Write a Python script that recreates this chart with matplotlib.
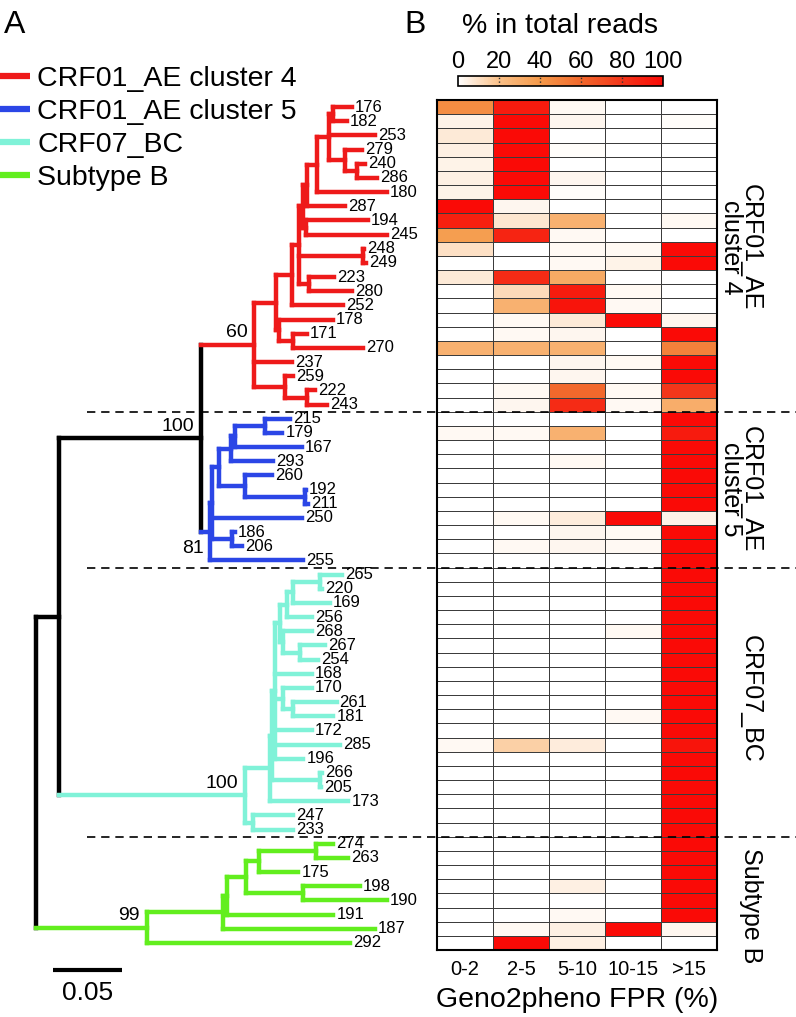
import matplotlib
matplotlib.use("Agg")
import matplotlib.pyplot as plt
import numpy as np
from matplotlib.collections import LineCollection
from matplotlib.colors import LinearSegmentedColormap, Normalize
from matplotlib.cm import ScalarMappable
from matplotlib.lines import Line2D

plt.rcParams['font.family'] = ['Liberation Sans', 'DejaVu Sans']

# ---- data -------------------------------------------------------------
# phylogeny, one Newick string per clade (branch lengths in subst./site,
# clade-root label = bootstrap)
nwk_c4 = ("(((((((((176:0.0140,182:0.0104):0.0025,253:0.0331,(279:0.0123,(240:0.0060,286:0.0147):0.0085):0.0114)"
          ":0.0087,180:0.0505):0.0077,287:0.0278):0.0027,(194:0.0449,245:0.0587):0.0022):0.0027,"
          "(248:0.0005,249:0.0020):0.0464,(223:0.0179,280:0.0309):0.0072):0.0055,252:0.0372):0.0114,"
          "(178:0.0391,(171:0.0099,270:0.0505):0.0104):0.0022):0.0157,237:0.0273,"
          "(259:0.0058,(222:0.0060,243:0.0147):0.0157):0.0222)60")
nwk_c5 = ("((((((215:0.0181,179:0.0125):0.0217,167:0.0483):0.0029,293:0.0307):0.0087,"
          "(260:0.0193,(192:0.0007,211:0.0024):0.0435):0.0188):0.0051,250:0.0650,"
          "(186:0.0024,206:0.0072):0.0143):0.0018,255:0.0680)81")
nwk_crf07 = ("((((((((265:0.0157,220:0.0012):0.0193,169:0.0266):0.0048,256:0.0181):0.0049,"
             "(268:0.0206,(267:0.0181,254:0.0133):0.0121):0.0024):0.0036,168:0.0266,"
             "(170:0.0206,(261:0.0314,181:0.0290):0.0072):0.0060,172:0.0266,285:0.0471,196:0.0205)"
             ":0.0024,(266:0.0014,205:0.0007):0.0350):0.0012,173:0.0567):0.0181,"
             "(247:0.0290,233:0.0290):0.0060)100")
nwk_b = ("((((((274:0.0125,263:0.0234):0.0411,175:0.0283):0.0096,(198:0.0411,190:0.0604):0.0415)"
         ":0.0140,191:0.0772):0.0029,187:0.1104):0.0551,292:0.1473)99")
backbone = "(((C4:0.0386,C5:0.0062)100:0.1029,CRF07:0.1348):0.0167,SUBB:0.0802)"

groups = ['CRF01_AE cluster 4', 'CRF01_AE cluster 5', 'CRF07_BC', 'Subtype B']
group_colors = ['#EE1A1A', '#2B46E6', '#80F2D8', '#62EE1E']
side_labels = ['CRF01_AE\ncluster 4', 'CRF01_AE\ncluster 5', 'CRF07_BC', 'Subtype B']
side_label_rows = [10.4, 27.5, 42.3, 56.9]

# % of reads per Geno2pheno FPR bin, rows in tree tip order
fpr_bins = ['0-2', '2-5', '5-10', '10-15', '>15']
reads_c4 = [[45, 92, 2, 0, 0], [4, 100, 3, 0, 1], [7, 100, 0, 0, 0], [5, 100, 1, 0, 0],
            [4, 100, 0, 0, 0], [5, 100, 3, 0, 0], [4, 100, 1, 0, 0], [100, 3, 0, 0, 0],
            [90, 8, 28, 0, 2], [38, 88, 2, 0, 0], [10, 0, 2, 2, 100], [0, 0, 2, 4, 100],
            [7, 85, 32, 0, 0], [0, 12, 92, 2, 0], [0, 28, 95, 2, 0], [0, 2, 7, 100, 3],
            [0, 2, 3, 0, 100], [28, 28, 28, 0, 50], [0, 0, 3, 2, 100], [0, 0, 3, 0, 100],
            [0, 2, 60, 2, 80], [0, 3, 85, 2, 30]]
reads_c5 = [[0, 0, 0, 0, 100], [2, 2, 28, 0, 92], [0, 0, 0, 0, 100], [0, 0, 2, 0, 100],
            [0, 0, 0, 0, 100], [0, 0, 0, 0, 100], [0, 0, 0, 0, 100], [0, 2, 6, 100, 4],
            [0, 0, 3, 2, 100], [0, 2, 3, 2, 100], [0, 0, 0, 0, 100]]
reads_crf07 = [[0, 0, 0, 0, 100], [0, 0, 0, 0, 100], [0, 0, 0, 0, 100], [0, 0, 0, 0, 100],
               [0, 0, 0, 2, 100], [0, 0, 0, 0, 100], [0, 0, 0, 0, 100], [0, 0, 0, 0, 100],
               [0, 0, 0, 0, 100], [0, 0, 0, 0, 100], [0, 0, 0, 2, 100], [0, 0, 0, 0, 100],
               [2, 15, 6, 0, 95], [0, 0, 0, 0, 100], [0, 0, 0, 0, 100], [0, 0, 0, 0, 100],
               [0, 0, 0, 0, 100], [0, 0, 0, 0, 100], [0, 0, 0, 0, 100]]
reads_b = [[0, 0, 0, 0, 100], [0, 0, 0, 0, 100], [0, 0, 0, 0, 100], [0, 0, 5, 0, 100],
           [0, 0, 0, 0, 100], [0, 0, 2, 0, 100], [0, 2, 5, 100, 3], [0, 100, 5, 0, 0]]


# ---- tiny newick parser -----------------------------------------------
def parse_newick(s):
    s = s.strip().rstrip(';')
    pos = 0

    def node():
        nonlocal pos
        n = {'children': [], 'name': '', 'length': 0.0, 'color': 'black'}
        if s[pos] == '(':
            pos += 1
            while True:
                n['children'].append(node())
                if s[pos] == ',':
                    pos += 1
                    continue
                pos += 1
                break
        start = pos
        while pos < len(s) and s[pos] not in ',)':
            pos += 1
        name, _, length = s[start:pos].partition(':')
        n['name'] = name
        n['length'] = float(length) if length else 0.0
        return n
    return node()


def paint(n, color):
    n['color'] = color
    for c in n['children']:
        paint(c, color)


clades = {}
for key, nwk, col in zip(['C4', 'C5', 'CRF07', 'SUBB'],
                         [nwk_c4, nwk_c5, nwk_crf07, nwk_b], group_colors):
    clades[key] = parse_newick(nwk)
    paint(clades[key], col)

tree = parse_newick(backbone)


def graft(n):
    for i, c in enumerate(n['children']):
        if c['name'] in clades:
            sub = clades[c['name']]
            sub['length'] = c['length']
            n['children'][i] = sub
        else:
            graft(c)


graft(tree)

tips = []


def layout(n, x0):
    n['x'] = x0 + n['length']
    if not n['children']:
        n['y'] = len(tips) + 0.5
        tips.append(n)
    else:
        for c in n['children']:
            layout(c, n['x'])
        n['y'] = (n['children'][0]['y'] + n['children'][-1]['y']) / 2


layout(tree, 0.0)

segs, cols, inner = [], [], []


def collect(n, px):
    if px is not None:
        segs.append([(px, n['y']), (n['x'], n['y'])])
        cols.append(n['color'])
    if n['children']:
        segs.append([(n['x'], n['children'][0]['y']), (n['x'], n['children'][-1]['y'])])
        cols.append(n['color'])
        if n['name']:
            inner.append(n)
        for c in n['children']:
            collect(c, n['x'])


collect(tree, None)

# ---- figure -----------------------------------------------------------
W, H = 796, 1017
fig = plt.figure(figsize=(W / 100, H / 100), dpi=100)

hm_l, hm_t, hm_r, hm_b = 437, 100, 717, 950
nrow = len(tips)
row_h = (hm_b - hm_t) / nrow

# heatmap
data = np.array(reads_c4 + reads_c5 + reads_crf07 + reads_b, dtype=float)
cmap = LinearSegmentedColormap.from_list(
    'reads', [(0, '#FFFFFF'), (0.2, '#FAC088'), (0.4, '#F59A4A'),
              (0.6, '#F2682C'), (0.8, '#F3361A'), (1.0, '#FA0A06')])
ax_hm = fig.add_axes([hm_l / W, 1 - hm_b / H, (hm_r - hm_l) / W, (hm_b - hm_t) / H])
ax_hm.pcolormesh(np.arange(len(fpr_bins) + 1), np.arange(nrow + 1), data,
                 cmap=cmap, vmin=0, vmax=100, edgecolors='#3c3c3c', linewidth=0.7)
ax_hm.set_xlim(0, len(fpr_bins))
ax_hm.set_ylim(nrow, 0)
ax_hm.set_yticks([])
ax_hm.set_xticks(np.arange(len(fpr_bins)) + 0.5)
ax_hm.set_xticklabels(fpr_bins, fontsize=14.5)
ax_hm.tick_params(axis='x', length=0, pad=7)
ax_hm.set_xlabel('Geno2pheno FPR (%)', fontsize=20.5, labelpad=6)
for sp in ax_hm.spines.values():
    sp.set_linewidth(1.5)

col_w = (hm_r - hm_l) / len(fpr_bins)
for lab, r in zip(side_labels, side_label_rows):
    ax_hm.text((763 - hm_l) / col_w, r, lab, rotation=-90, ha='right', va='center',
               multialignment='center', linespacing=0.8, fontsize=18, clip_on=False)

# tree, full-figure axes in (subst./site, row) units
px_per_unit = 1380.0
root_px = 36
ax = fig.add_axes([0, 0, 1, 1])
ax.patch.set_visible(False)
ax.set_xlim(-root_px / px_per_unit, (W - root_px) / px_per_unit)
ax.set_ylim((H - hm_t) / row_h, -hm_t / row_h)
ax.axis('off')

ax.add_collection(LineCollection(segs, colors=cols, linewidths=3.2, capstyle='projecting'))

for t in tips:
    ax.annotate(t['name'], (t['x'], t['y']), xytext=(3, 0), textcoords='offset pixels',
                fontsize=12, ha='left', va='center')

for n in inner:
    off = (-6, -17) if n['name'] == '81' else (-7, 12)
    ax.annotate(n['name'], (n['x'], n['y']), xytext=off, textcoords='offset pixels',
                fontsize=14, ha='right', va='center')

# group separators
bounds = np.cumsum([len(reads_c4), len(reads_c5), len(reads_crf07)])
ax.hlines(bounds, (87 - root_px) / px_per_unit, (W - root_px) / px_per_unit,
          colors='black', linewidth=1.2, linestyles=(0, (5, 3.5)))

# scale bar
sb_len = 0.05
sb_x = (53 - root_px) / px_per_unit
sb_y = (970 - hm_t) / row_h
ax.plot([sb_x, sb_x + sb_len], [sb_y, sb_y], color='black', lw=3, solid_capstyle='butt')
ax.annotate(f'{sb_len}', (sb_x + sb_len / 2, sb_y), xytext=(0, -23), textcoords='offset pixels',
            fontsize=19, ha='center', va='center')

# legend
handles = [Line2D([], [], color=c, lw=4.5, solid_capstyle='butt') for c in group_colors]
fig.legend(handles, groups, loc='upper left', bbox_to_anchor=(0, 1 - 66 / H), frameon=False,
           fontsize=20.5, handlelength=1.05, handletextpad=0.25, labelspacing=0.25,
           borderaxespad=0, borderpad=0)

# colour bar
cax = fig.add_axes([458 / W, 1 - 86 / H, 205 / W, 10 / H])
cb = fig.colorbar(ScalarMappable(norm=Normalize(0, 100), cmap=cmap), cax=cax,
                  orientation='horizontal', ticks=[0, 20, 40, 60, 80, 100])
cax.xaxis.set_ticks_position('top')
cax.tick_params(length=0, labelsize=17, pad=2)
cb.outline.set_linewidth(1.2)
cax.vlines([20, 40, 60, 80], 0, 1, colors='#333333', linestyles=':', linewidth=1)

fig.text(560 / W, 1 - 26 / H, '% in total reads', fontsize=20.5, ha='center', va='center')
fig.text(15 / W, 1 - 25 / H, 'A', fontsize=23, ha='center', va='center')
fig.text(415 / W, 1 - 25 / H, 'B', fontsize=23, ha='center', va='center')

fig.savefig('out.png', dpi=100)
